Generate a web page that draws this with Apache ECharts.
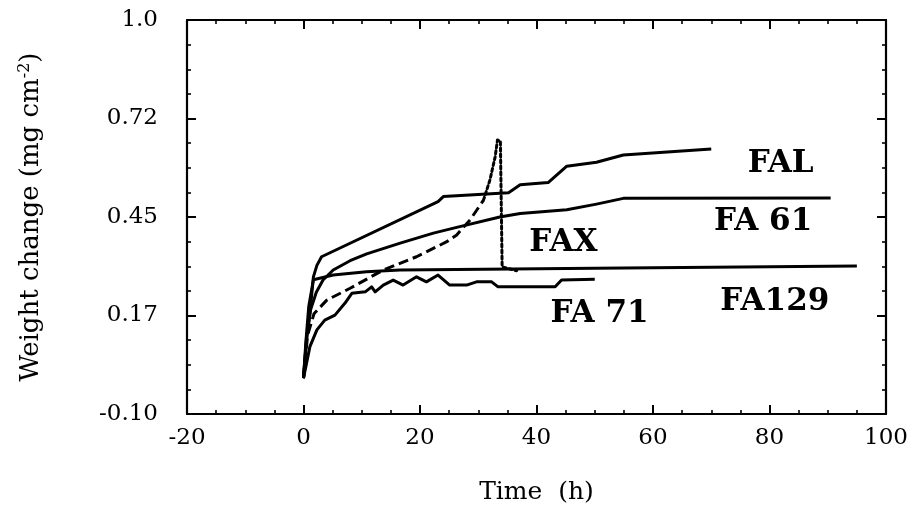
<!DOCTYPE html>
<html>
<head>
<meta charset="utf-8">
<script src="https://cdn.jsdelivr.net/npm/echarts@6/dist/echarts.min.js"></script>
<style>html,body{margin:0;padding:0;background:#fff}#c{width:914px;height:520px}</style>
</head>
<body>
<div id="c"></div>
<script>
// ---- data ----
const yTickLabels = ["-0.10", "0.17", "0.45", "0.72", "1.0"];
const xTickLabels = ["-20", "0", "20", "40", "60", "80", "100"];

const FAL = [[0,0.0],[0.5,0.107],[1.1,0.181],[1.7,0.283],[2.3,0.315],[3.1,0.339],[23.1,0.493],[24.0,0.507],[35.2,0.518],[37.2,0.540],[42.0,0.546],[45.2,0.592],[50.3,0.603],[54.9,0.623],[70.0,0.640]];
const FA61 = [[0,0.0],[0.6,0.12],[1.2,0.19],[2.2,0.24],[3.35,0.274],[5.1,0.302],[8.0,0.328],[10.85,0.347],[16.6,0.377],[22.3,0.405],[26.3,0.421],[33.7,0.450],[37.2,0.460],[45.2,0.470],[50.3,0.486],[54.9,0.502],[90.5,0.503]];
const FA129 = [[0,0.0],[0.4,0.10],[0.9,0.20],[1.7,0.275],[5.1,0.288],[10.8,0.297],[16.6,0.302],[50.0,0.307],[95.0,0.313]];
const FAX_dash = [[0,0.0],[0.7,0.12],[1.8,0.18],[4.0,0.218],[8.0,0.251],[13.7,0.302],[19.4,0.339],[24.6,0.381],[26.3,0.400],[28.6,0.442],[30.9,0.497]];
const FAX_dot = [[30.9,0.497],[32.0,0.553],[32.9,0.618],[33.3,0.665],[33.8,0.662],[34.1,0.311],[36.6,0.300]];
const FA71 = [[0,0.0],[1.1,0.088],[2.3,0.135],[3.65,0.162],[5.4,0.176],[7.1,0.209],[8.3,0.237],[10.6,0.241],[11.7,0.255],[12.3,0.241],[13.7,0.260],[15.4,0.274],[17.1,0.260],[19.4,0.283],[21.1,0.269],[23.1,0.288],[25.1,0.260],[28.0,0.260],[29.7,0.269],[32.3,0.269],[33.4,0.255],[43.2,0.255],[44.3,0.274],[50.0,0.276]];

const seriesLabels = [
  {name: "FAL",   pos: [82.0, 0.597]},
  {name: "FA 61", pos: [79.0, 0.436]},
  {name: "FAX",   pos: [44.7, 0.375]},
  {name: "FA 71", pos: [50.9, 0.179]},
  {name: "FA129", pos: [81.0, 0.212]}
];

// ---- chart ----
const chart = echarts.init(document.getElementById('c'), null, {renderer: 'canvas'});
const serif = '"DejaVu Serif", "Liberation Serif", serif';
const lineW = 3;

function yFmt(v) {
  const i = Math.round((v + 0.1) / 0.275);
  return yTickLabels[i] !== undefined ? yTickLabels[i] : '';
}
function xFmt(v) {
  const i = Math.round((v + 20) / 20);
  return xTickLabels[i] !== undefined ? xTickLabels[i] : '';
}

const axisCommon = {
  axisLine: {show: true, onZero: false, lineStyle: {color: '#000', width: 2.2}},
  axisTick: {show: true, inside: true, length: 9, lineStyle: {color: '#000', width: 2}},
  minorTick: {show: true, splitNumber: 4, length: 4, lineStyle: {color: '#000', width: 1.6}},
  splitLine: {show: false}
};

function lineSeries(name, data, type) {
  return {
    name: name, type: 'line', data: data, symbol: 'none', smooth: false,
    lineStyle: {color: '#000', width: type === 'dotted' ? 3 : lineW, type: type || 'solid',
      cap: type === 'dotted' ? 'round' : 'butt', join: 'round'},
    z: 3
  };
}

const option = {
  animation: false,
  backgroundColor: '#fff',
  grid: {left: 187, right: 28, top: 20, bottom: 106, containLabel: false},
  xAxis: [
    Object.assign({}, axisCommon, {
      type: 'value', min: -20, max: 100, interval: 20,
      name: 'Time  (h)', nameLocation: 'middle', nameGap: 66,
      nameTextStyle: {fontFamily: serif, fontSize: 25, color: '#000'},
      axisLabel: {formatter: xFmt, margin: 13, fontFamily: serif, fontSize: 23, color: '#000'}
    }),
    Object.assign({}, axisCommon, {
      type: 'value', min: -20, max: 100, interval: 20, position: 'top',
      axisLabel: {show: false}
    })
  ],
  yAxis: [
    Object.assign({}, axisCommon, {
      type: 'value', min: -0.1, max: 1.0, interval: 0.275,
      name: '{a|Weight change (mg cm}{s|-2}{a|)}', nameLocation: 'middle', nameGap: 142,
      nameTextStyle: {
        rich: {
          a: {fontFamily: serif, fontSize: 26, color: '#000'},
          s: {fontFamily: serif, fontSize: 16, color: '#000', verticalAlign: 'top', padding: [0, 0, 12, 0]}
        }
      },
      axisLabel: {formatter: yFmt, margin: 29, fontFamily: serif, fontSize: 23, color: '#000'}
    }),
    Object.assign({}, axisCommon, {
      type: 'value', min: -0.1, max: 1.0, interval: 0.275, position: 'right',
      axisLabel: {show: false}
    })
  ],
  series: [
    lineSeries('FAL', FAL),
    lineSeries('FA61', FA61),
    lineSeries('FA129', FA129),
    lineSeries('FAX', FAX_dash, [10, 5]),
    lineSeries('FAX dot', FAX_dot, 'dotted'),
    lineSeries('FA71', FA71),
    {
      name: 'labels', type: 'scatter', symbolSize: 1, itemStyle: {opacity: 0},
      data: seriesLabels.map(d => ({value: d.pos, name: d.name})),
      label: {show: true, position: [0, 0], align: 'center', verticalAlign: 'middle',
        formatter: p => p.name, opacity: 1,
        fontFamily: serif, fontWeight: 'bold', fontSize: 31, color: '#000',
        textBorderWidth: 0},
      emphasis: {disabled: true},
      z: 4
    }
  ]
};
chart.setOption(option);
</script>
</body>
</html>
